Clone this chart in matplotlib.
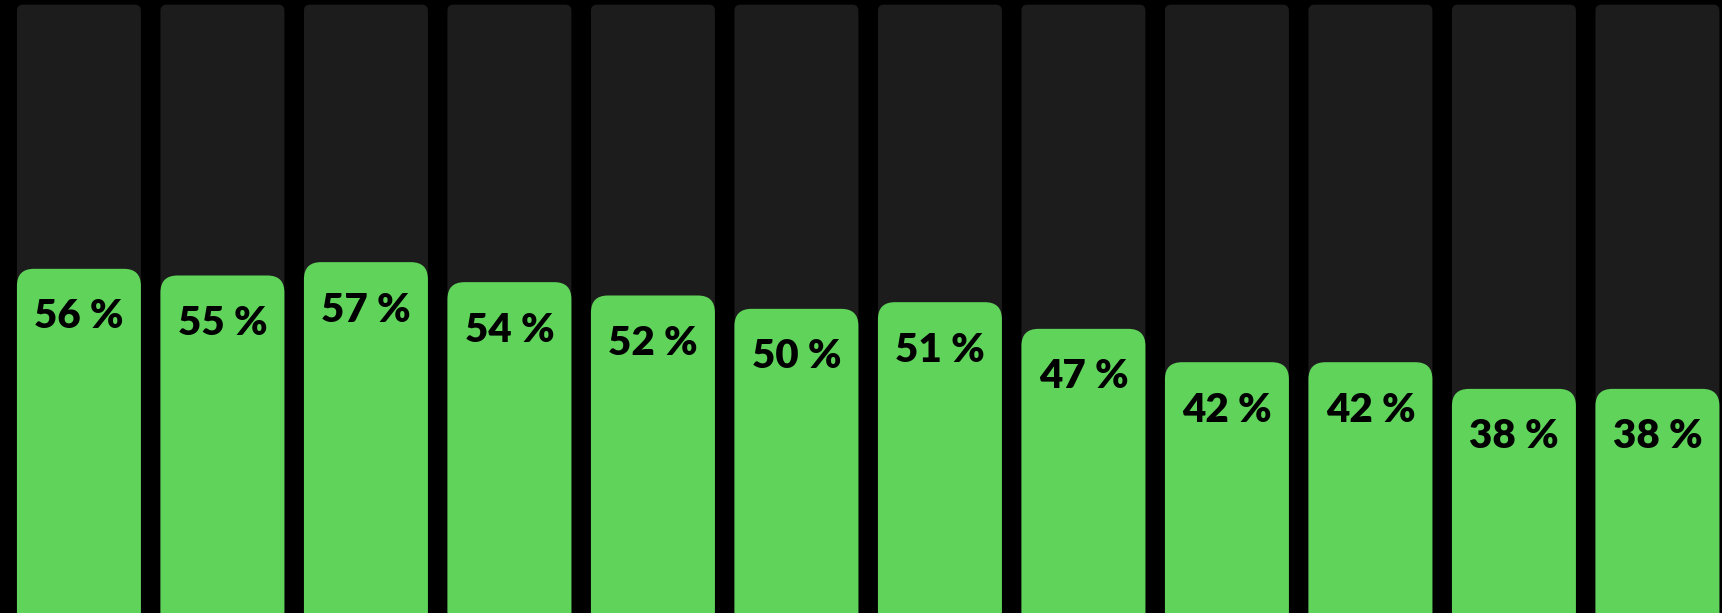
import matplotlib.pyplot as plt
from matplotlib.patches import FancyBboxPatch

# values shown on the bars (percent)
values = [56, 55, 57, 54, 52, 50, 51, 47, 42, 42, 38, 38]
labels = [f'{v} %' for v in values]
track = 95.6  # height of the grey background track

bg = '#000000'
track_color = '#1c1c1c'
bar_color = '#5fd35a'

fig = plt.figure(figsize=(17.22, 6.13), dpi=100, facecolor=bg)
ax = fig.add_axes([0, 0, 1, 1])
ax.set_facecolor(bg)
ax.set_xlim(-0.55, 11.45)
ax.set_ylim(4.4, 96.3)
ax.axis('off')

width = 0.864
# aspect between y and x data units per pixel, so the corners stay round
px_x = 12.0 / 1722
px_y = (96.3 - 4.4) / 613
aspect = px_y / px_x

for i, v in enumerate(values):
    x0 = i - width / 2
    ax.add_patch(FancyBboxPatch((x0, 0), width, track,
                                boxstyle=f'round,pad=0,rounding_size={6 * px_x}',
                                mutation_aspect=aspect,
                                facecolor=track_color, edgecolor='none'))
    ax.add_patch(FancyBboxPatch((x0, 0), width, v,
                                boxstyle=f'round,pad=0,rounding_size={17 * px_x}',
                                mutation_aspect=aspect,
                                facecolor=bar_color, edgecolor='none'))
    ax.annotate(labels[i], (i, v), xytext=(0, -48), textcoords='offset pixels',
                ha='center', va='center', fontsize=29, fontweight='heavy',
                family=['Lato', 'DejaVu Sans'], color='#000000')

fig.savefig('out.png', dpi=100, facecolor=bg)
